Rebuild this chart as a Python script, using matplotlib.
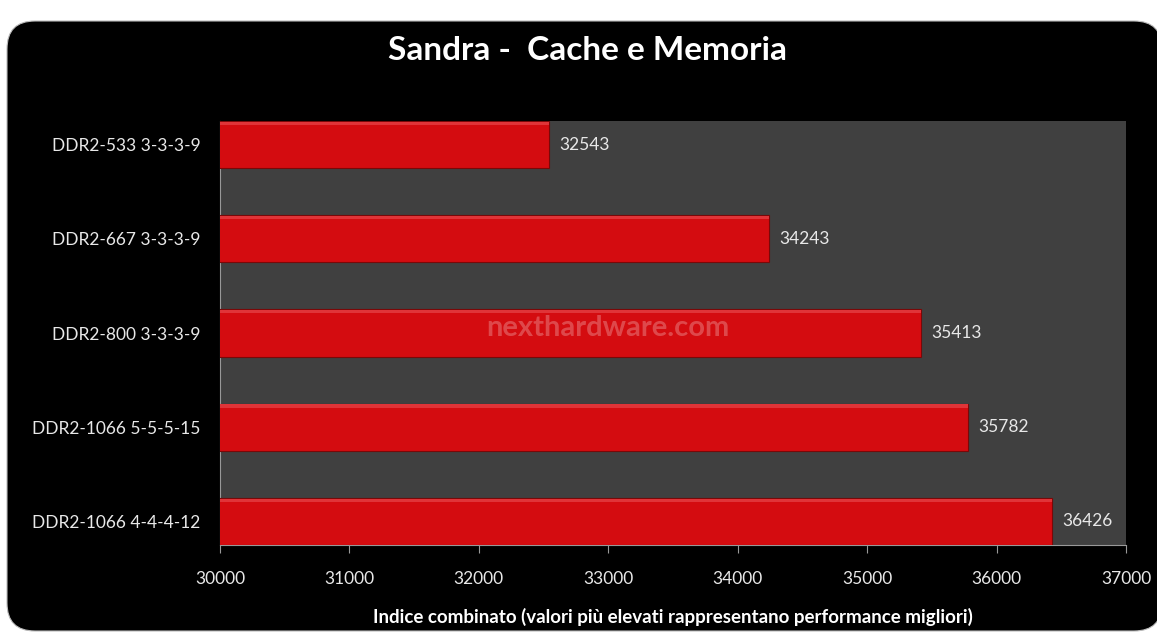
import matplotlib.pyplot as plt
from matplotlib.patches import FancyBboxPatch

# dati
configs = ["DDR2-533 3-3-3-9", "DDR2-667 3-3-3-9", "DDR2-800 3-3-3-9",
           "DDR2-1066 5-5-5-15", "DDR2-1066 4-4-4-12"]
scores = [32543, 34243, 35413, 35782, 36426]
xticks = [30000, 31000, 32000, 33000, 34000, 35000, 36000, 37000]

plt.rcParams['font.family'] = ['Lato', 'DejaVu Sans']

W, H = 1157, 633
fig = plt.figure(figsize=(W / 100, H / 100), dpi=100, facecolor='white')

# sfondo nero arrotondato
bg = fig.add_axes([0, 0, 1, 1])
bg.set_xlim(0, W)
bg.set_ylim(0, H)
bg.axis('off')
bg.add_patch(FancyBboxPatch((22, 17), W - 22 - 10, H - 17 - 36,
                            boxstyle="round,pad=15,rounding_size=28",
                            facecolor='black', edgecolor='#bbbbbb', linewidth=0.8))

ax = fig.add_axes([220 / W, (H - 545) / H, (1126 - 220) / W, (545 - 121) / H])
ax.set_facecolor('#404040')

ypos = list(range(len(configs)))
ax.barh(ypos, scores, height=0.5, left=0, color='#d40c10', edgecolor='#7a0808',
        linewidth=0.8, zorder=3)
# leggera luce sul bordo superiore delle barre
ax.barh([y - 0.225 for y in ypos], scores, height=0.035, color='#e03438',
        linewidth=0, zorder=4)

for y, v in zip(ypos, scores):
    ax.text(v + 80, y, str(v), va='center', ha='left', color='#e8e8e8',
            fontsize=12.5, zorder=5)

ax.set_xlim(30000, 37000)
ax.set_ylim(4.25, -0.25)
ax.set_xticks(xticks)
ax.set_xticklabels([str(t) for t in xticks], color='#e8e8e8', fontsize=12.5)
ax.set_yticks(ypos)
ax.set_yticklabels(configs, color='#e8e8e8', fontsize=12.5)
ax.tick_params(axis='y', length=0, pad=14)
ax.tick_params(axis='x', length=6, color='#999999', direction='out', pad=13)
for s in ['top', 'right']:
    ax.spines[s].set_visible(False)
ax.spines['left'].set_color('#999999')
ax.spines['bottom'].set_color('#999999')

ax.set_xlabel("Indice combinato (valori più elevati rappresentano performance migliori)",
              color='white', fontsize=13.5, fontweight='bold', labelpad=15)

fig.text(588 / W, 1 - 51 / H, "Sandra -  Cache e Memoria", color='white',
         fontsize=24, fontweight='bold', ha='center', va='center')

# watermark
ax.text(33000, 1.95, "nexthardware.com", color='white', alpha=0.25,
        fontsize=21, fontweight='bold', ha='center', va='center', zorder=6)

fig.savefig("out.png", dpi=100, facecolor='white')
